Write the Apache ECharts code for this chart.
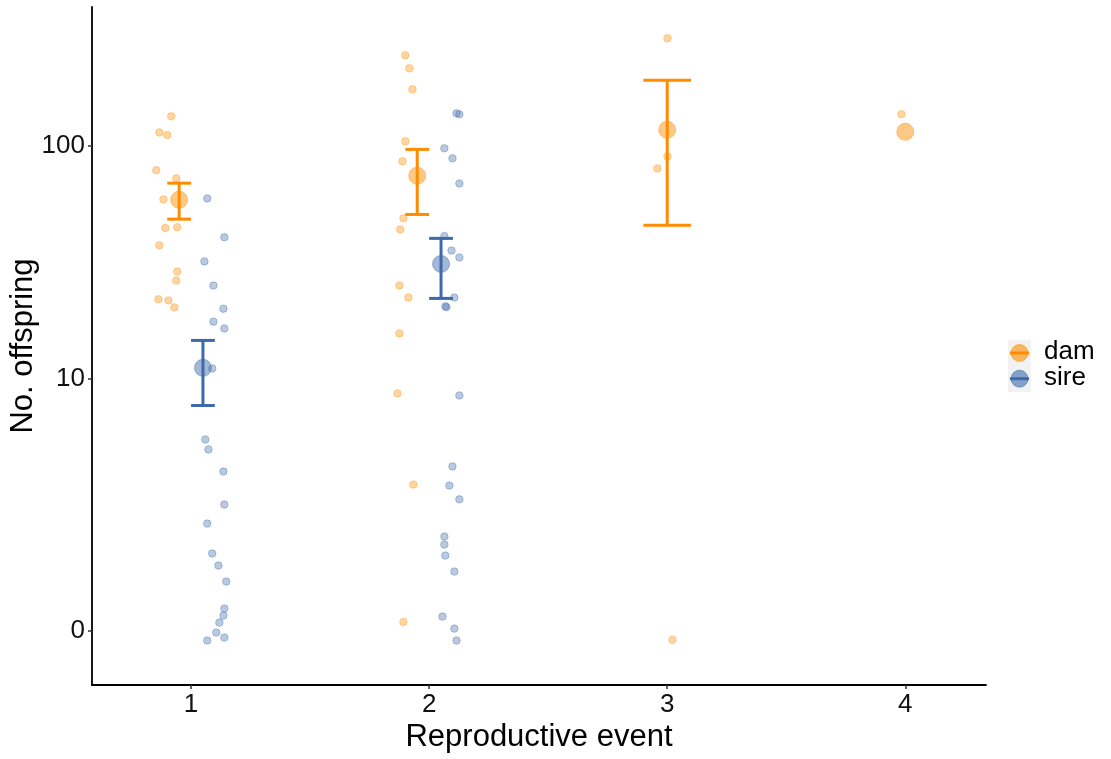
<!DOCTYPE html>
<html>
<head>
<meta charset="utf-8">
<script src="https://cdn.jsdelivr.net/npm/echarts@6.0.0/dist/echarts.min.js"></script>
<style>
  html, body { margin: 0; padding: 0; background: #fff; }
  #box1 { width: 1111px; height: 759px; }
</style>
</head>
<body>
<div id="box1"></div>
<script>
// data (counts, jittered x)
var events = [1, 2, 3, 4];
var yTicks = [0, 10, 100];

var damPoints = [
  [0.917, 133.1], [0.867, 114.1], [0.900, 111.2], [0.854, 79.2], [0.938, 73.3],
  [0.884, 59.8], [0.892, 45.3], [0.942, 45.7], [0.867, 38.3], [0.942, 29.6],
  [0.938, 27.1], [0.863, 22.5], [0.905, 22.25], [0.930, 20.75],
  [1.900, 238.7], [1.917, 210.8], [1.930, 172.4], [1.900, 104.7], [1.888, 86.4],
  [1.892, 49.8], [1.879, 44.7], [1.875, 25.8], [1.913, 22.9], [1.875, 15.98],
  [1.867, 8.59], [1.934, 3.03], [1.892, 0.09],
  [3.001, 280.8], [3.001, 90.6], [2.959, 80.7], [3.022, -0.08],
  [3.984, 135.7]
];
var sirePoints = [
  [1.068, 60.4], [1.140, 41.4], [1.056, 32.7], [1.094, 25.8], [1.136, 20.5],
  [1.094, 18.0], [1.140, 16.8], [1.089, 11.17], [1.060, 5.19], [1.073, 4.63],
  [1.136, 3.56], [1.140, 2.33], [1.068, 1.78], [1.089, 1.09], [1.115, 0.865],
  [1.148, 0.601], [1.140, 0.238], [1.136, 0.158], [1.119, 0.083], [1.106, -0.015],
  [1.140, -0.061], [1.068, -0.087],
  [2.115, 137.0], [2.127, 135.7], [2.064, 97.9], [2.098, 88.9], [2.127, 69.8],
  [2.064, 41.9], [2.094, 36.4], [2.127, 34.0], [2.106, 22.9], [2.068, 21.0],
  [2.073, 20.8], [2.127, 8.41], [2.098, 3.79], [2.085, 2.99], [2.127, 2.50],
  [2.064, 1.457], [2.064, 1.277], [2.068, 1.05], [2.106, 0.761], [2.056, 0.147],
  [2.106, 0.023], [2.115, -0.087]
];

var damMean  = [59.6, 75.2, 117.0, 114.8];
var damLower = [49.4, 51.7, 46.5, null];
var damUpper = [70.0, 96.9, 187.9, null];
var sireMean  = [11.24, 31.9, null, null];
var sireLower = [7.55, 22.7, null, null];
var sireUpper = [14.89, 40.97, null, null];

var DAM = '#FF8C00';
var SIRE = '#3C6AAA';

// pseudo log scale, log10(n + 1)
function t(v) { return Math.log10(v + 1); }
function back(v) { return Math.round(Math.pow(10, v) - 1); }

function pts(arr) {
  return arr.map(function (p) { return [p[0], t(p[1])]; });
}

// dodge: dam left / sire right when both are there
function dodge(i, who) {
  var both = sireMean[i] != null;
  if (!both) return { x: events[i], hw: 0.1 };
  return who === 'dam' ? { x: events[i] - 0.05, hw: 0.05 } : { x: events[i] + 0.05, hw: 0.05 };
}

function meanData(mean, who) {
  var out = [];
  mean.forEach(function (m, i) {
    if (m == null) return;
    out.push([dodge(i, who).x, t(m)]);
  });
  return out;
}
function barData(lo, hi, who) {
  var out = [];
  lo.forEach(function (l, i) {
    if (l == null) return;
    var d = dodge(i, who);
    out.push([d.x, t(l), t(hi[i]), d.hw]);
  });
  return out;
}

function errRender(color) {
  return function (params, api) {
    var x = api.value(0), lo = api.value(1), hi = api.value(2), hw = api.value(3);
    var top = api.coord([x, hi]), bot = api.coord([x, lo]);
    var l = api.coord([x - hw, hi])[0], r = api.coord([x + hw, hi])[0];
    var st = { stroke: color, lineWidth: 3 };
    return {
      type: 'group',
      children: [
        { type: 'line', shape: { x1: top[0], y1: top[1], x2: bot[0], y2: bot[1] }, style: st },
        { type: 'line', shape: { x1: l, y1: top[1], x2: r, y2: top[1] }, style: st },
        { type: 'line', shape: { x1: l, y1: bot[1], x2: r, y2: bot[1] }, style: st }
      ]
    };
  };
}

var FONT = 'Liberation Sans, Arial, sans-serif';
var tickVals = yTicks.map(t);

var myChart1 = echarts.init(document.getElementById('box1'));
var option = {
  backgroundColor: '#fff',
  animation: false,
  grid: { left: 92, right: 125, top: 7, bottom: 74, containLabel: false, outerBoundsMode: 'none' },
  xAxis: {
    type: 'value',
    min: 0.584,
    max: 4.339,
    name: 'Reproductive event',
    nameLocation: 'middle',
    nameGap: 37,
    nameMoveOverlap: false,
    nameTextStyle: { color: '#000', fontSize: 31, fontFamily: FONT },
    axisLine: { onZero: false, lineStyle: { color: '#000', width: 1.8 } },
    axisTick: { show: true, length: 4, lineStyle: { color: '#333', width: 1.5 }, customValues: events },
    axisLabel: { customValues: events, color: '#111', fontSize: 26, fontFamily: FONT, margin: 7 },
    splitLine: { show: false }
  },
  yAxis: {
    type: 'value',
    min: -0.2233,
    max: 2.5794,
    name: 'No. offspring',
    nameLocation: 'middle',
    nameGap: 53,
    nameMoveOverlap: false,
    nameTextStyle: { color: '#000', fontSize: 31, fontFamily: FONT },
    axisLine: { show: true, onZero: false, lineStyle: { color: '#000', width: 1.8 } },
    axisTick: { show: true, length: 4, lineStyle: { color: '#333', width: 1.5 }, customValues: tickVals },
    axisLabel: {
      customValues: tickVals,
      color: '#111', fontSize: 26, fontFamily: FONT, margin: 7,
      formatter: function (v) { return String(back(v)); }
    },
    splitLine: { show: false }
  },
  graphic: [
    { type: 'rect', left: 1008, top: 340, shape: { width: 23, height: 52 }, style: { fill: '#F2F2F2' } },
    { type: 'circle', shape: { cx: 1019.5, cy: 353, r: 8.5 }, style: { fill: 'rgba(255,140,0,0.6)', stroke: 'rgba(255,140,0,0.7)', lineWidth: 0.8 } },
    { type: 'line', shape: { x1: 1010, y1: 353, x2: 1029, y2: 353 }, style: { stroke: DAM, lineWidth: 3 } },
    { type: 'circle', shape: { cx: 1019.5, cy: 378.7, r: 8.5 }, style: { fill: 'rgba(60,106,170,0.6)', stroke: 'rgba(60,106,170,0.7)', lineWidth: 0.8 } },
    { type: 'line', shape: { x1: 1010, y1: 378.7, x2: 1029, y2: 378.7 }, style: { stroke: SIRE, lineWidth: 3 } },
    { type: 'text', left: 1044, top: 339, style: { text: 'dam', fill: '#000', font: '26px ' + FONT } },
    { type: 'text', left: 1044, top: 365, style: { text: 'sire', fill: '#000', font: '26px ' + FONT } }
  ],
  series: [
    {
      name: 'dam points', type: 'scatter', symbolSize: 7.5,
      itemStyle: { color: 'rgba(255,140,0,0.45)', borderColor: 'rgba(255,140,0,0.55)', borderWidth: 0.8 },
      data: pts(damPoints), z: 2
    },
    {
      name: 'sire points', type: 'scatter', symbolSize: 7.5,
      itemStyle: { color: 'rgba(60,106,170,0.45)', borderColor: 'rgba(60,106,170,0.55)', borderWidth: 0.8 },
      data: pts(sirePoints), z: 2
    },
    {
      name: 'dam', type: 'scatter', symbolSize: 17,
      itemStyle: { color: 'rgba(255,140,0,0.6)', borderColor: 'rgba(255,140,0,0.7)', borderWidth: 0.8 },
      data: meanData(damMean, 'dam'), z: 3
    },
    {
      name: 'sire', type: 'scatter', symbolSize: 17,
      itemStyle: { color: 'rgba(60,106,170,0.6)', borderColor: 'rgba(60,106,170,0.7)', borderWidth: 0.8 },
      data: meanData(sireMean, 'sire'), z: 3
    },
    {
      name: 'dam bars', type: 'custom', renderItem: errRender(DAM),
      encode: { x: 0, y: [1, 2] }, data: barData(damLower, damUpper, 'dam'), z: 4
    },
    {
      name: 'sire bars', type: 'custom', renderItem: errRender(SIRE),
      encode: { x: 0, y: [1, 2] }, data: barData(sireLower, sireUpper, 'sire'), z: 4
    }
  ]
};
myChart1.setOption(option);
</script>
</body>
</html>
